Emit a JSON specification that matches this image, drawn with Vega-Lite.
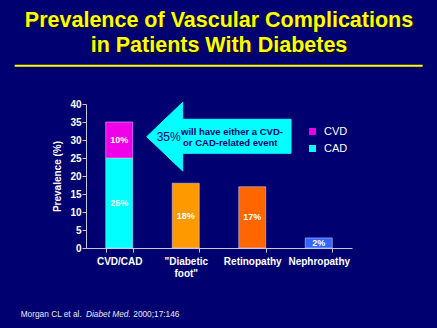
{
  "$schema": "https://vega.github.io/schema/vega-lite/v6.json",
  "width": 266,
  "height": 144,
  "autosize": {"type": "none"},
  "padding": {"left": 86, "top": 104, "right": 85, "bottom": 80},
  "background": "#000070",
  "config": {"view": {"stroke": null}, "font": "Liberation Sans"},
  "layer": [
    {
      "data": {
        "values": [
          {"category": "CVD/CAD", "series": "CAD", "value": 25, "label": "25%"},
          {"category": "CVD/CAD", "series": "CVD", "value": 10, "label": "10%"},
          {"category": "\"Diabetic|foot\"", "series": "Diabetic foot", "value": 18, "label": "18%"},
          {"category": "Retinopathy", "series": "Retinopathy", "value": 17, "label": "17%"},
          {"category": "Nephropathy", "series": "Nephropathy", "value": 2.8, "label": "2%"}
        ]
      },
      "encoding": {
        "x": {
          "field": "category",
          "type": "nominal",
          "sort": ["CVD/CAD", "\"Diabetic|foot\"", "Retinopathy", "Nephropathy"],
          "scale": {"paddingInner": 0.594, "paddingOuter": 0.297},
          "axis": {
            "title": null,
            "labelColor": "white",
            "labelFontWeight": "bold",
            "labelFontSize": 10,
            "labelAngle": 0,
            "labelPadding": 4,
            "labelExpr": "split(datum.label, '|')",
            "labelLineHeight": 12,
            "tickBand": "extent",
            "tickColor": "#C8C8D8",
            "tickSize": 4,
            "domainColor": "#C8C8D8",
            "grid": false
          }
        },
        "y": {
          "field": "value",
          "type": "quantitative",
          "stack": "zero",
          "scale": {"domain": [0, 40], "nice": false},
          "axis": {
            "title": "Prevalence (%)",
            "titleColor": "white",
            "titleFontSize": 10,
            "titleFontWeight": "bold",
            "titlePadding": 7,
            "values": [0, 5, 10, 15, 20, 25, 30, 35, 40],
            "labelColor": "white",
            "labelFontSize": 10,
            "labelFontWeight": "bold",
            "labelPadding": 1,
            "tickColor": "#C8C8D8",
            "tickSize": 4,
            "domainColor": "#C8C8D8",
            "grid": false
          }
        },
        "order": {"field": "series", "sort": "ascending"}
      },
      "layer": [
        {
          "mark": {"type": "bar", "stroke": "#D0D0FF", "strokeWidth": 0.8, "strokeOpacity": 0.7},
          "encoding": {
            "color": {
              "field": "series",
              "type": "nominal",
              "scale": {
                "domain": ["CVD", "CAD", "Diabetic foot", "Retinopathy", "Nephropathy"],
                "range": ["#F000E8", "#00FFFF", "#FF9900", "#FF6600", "#3366FF"]
              },
              "legend": {
                "values": ["CVD", "CAD"],
                "title": null,
                "orient": "none",
                "legendX": 221,
                "legendY": 22,
                "labelColor": "white",
                "labelFontSize": 11,
                "symbolType": "square",
                "symbolSize": 49,
                "symbolStrokeWidth": 0,
                "rowPadding": 5,
                "labelOffset": 6,
                "padding": 0
              }
            }
          }
        },
        {
          "mark": {"type": "text", "color": "white", "fontWeight": "bold", "fontSize": 9, "baseline": "middle"},
          "encoding": {
            "y": {"field": "value", "type": "quantitative", "stack": "zero", "bandPosition": 0.5, "scale": {"domain": [0, 40], "nice": false}},
            "text": {"field": "label"}
          }
        }
      ]
    },
    {
      "data": {
        "values": [
          {"i": 0, "px": 0.913, "py": 30.92},
          {"i": 1, "px": 1.454, "py": 40.47},
          {"i": 2, "px": 1.454, "py": 35.75},
          {"i": 3, "px": 3.083, "py": 35.75},
          {"i": 4, "px": 3.083, "py": 26.31},
          {"i": 5, "px": 1.454, "py": 26.31},
          {"i": 6, "px": 1.454, "py": 21.39}
        ]
      },
      "mark": {"type": "line", "interpolate": "linear-closed", "fill": "#00FFFF", "stroke": "#00FFFF", "strokeWidth": 1},
      "encoding": {
        "x": {"field": "px", "type": "quantitative", "scale": {"domain": [0, 4], "nice": false, "zero": false}, "axis": null},
        "y": {"field": "py", "type": "quantitative", "scale": {"domain": [0, 40], "nice": false}, "axis": null},
        "order": {"field": "i"}
      }
    },
    {
      "data": {"values": [{"note": "35%"}]},
      "mark": {"type": "text", "fontSize": 12, "color": "#000070", "align": "left", "baseline": "middle"},
      "encoding": {
        "text": {"field": "note"},
        "x": {"datum": 1.063, "type": "quantitative", "scale": {"domain": [0, 4], "nice": false, "zero": false}, "axis": null},
        "y": {"datum": 30.83, "type": "quantitative", "scale": {"domain": [0, 40], "nice": false}, "axis": null}
      }
    },
    {
      "data": {"values": [{"note": "will have either a CVD-"}]},
      "mark": {"type": "text", "fontSize": 9.5, "fontWeight": "bold", "color": "#000070", "align": "left", "baseline": "middle"},
      "encoding": {
        "text": {"field": "note"},
        "x": {"datum": 1.429, "type": "quantitative", "scale": {"domain": [0, 4], "nice": false, "zero": false}, "axis": null},
        "y": {"datum": 32.3, "type": "quantitative", "scale": {"domain": [0, 40], "nice": false}, "axis": null}
      }
    },
    {
      "data": {"values": [{"note": "or CAD-related event"}]},
      "mark": {"type": "text", "fontSize": 9.5, "fontWeight": "bold", "color": "#000070", "align": "left", "baseline": "middle"},
      "encoding": {
        "text": {"field": "note"},
        "x": {"datum": 1.459, "type": "quantitative", "scale": {"domain": [0, 4], "nice": false, "zero": false}, "axis": null},
        "y": {"datum": 29.1, "type": "quantitative", "scale": {"domain": [0, 40], "nice": false}, "axis": null}
      }
    },
    {
      "data": {"values": [{}]},
      "mark": {"type": "rule", "color": "#FFFF00", "strokeWidth": 2},
      "encoding": {
        "x": {"datum": -1.072, "type": "quantitative", "scale": {"domain": [0, 4], "nice": false, "zero": false}, "axis": null},
        "x2": {"datum": 5.063},
        "y": {"datum": 50.64, "type": "quantitative", "scale": {"domain": [0, 40], "nice": false}, "axis": null}
      }
    },
    {
      "data": {"values": [{"note": "Prevalence of Vascular Complications"}]},
      "mark": {"type": "text", "fontSize": 21.5, "fontWeight": "bold", "color": "#101018", "align": "center", "baseline": "alphabetic", "dx": 1.5, "dy": 1.5},
      "encoding": {
        "text": {"field": "note"},
        "x": {"datum": 2.0, "type": "quantitative", "scale": {"domain": [0, 4], "nice": false, "zero": false}, "axis": null},
        "y": {"datum": 61.39, "type": "quantitative", "scale": {"domain": [0, 40], "nice": false}, "axis": null}
      }
    },
    {
      "data": {"values": [{"note": "in Patients With Diabetes"}]},
      "mark": {"type": "text", "fontSize": 21.5, "fontWeight": "bold", "color": "#101018", "align": "center", "baseline": "alphabetic", "dx": 1.5, "dy": 1.5},
      "encoding": {
        "text": {"field": "note"},
        "x": {"datum": 2.0, "type": "quantitative", "scale": {"domain": [0, 4], "nice": false, "zero": false}, "axis": null},
        "y": {"datum": 54.31, "type": "quantitative", "scale": {"domain": [0, 40], "nice": false}, "axis": null}
      }
    },
    {
      "data": {"values": [{"note": "Prevalence of Vascular Complications"}]},
      "mark": {"type": "text", "fontSize": 21.5, "fontWeight": "bold", "color": "#FFFF00", "align": "center", "baseline": "alphabetic"},
      "encoding": {
        "text": {"field": "note"},
        "x": {"datum": 2.0, "type": "quantitative", "scale": {"domain": [0, 4], "nice": false, "zero": false}, "axis": null},
        "y": {"datum": 61.39, "type": "quantitative", "scale": {"domain": [0, 40], "nice": false}, "axis": null}
      }
    },
    {
      "data": {"values": [{"note": "in Patients With Diabetes"}]},
      "mark": {"type": "text", "fontSize": 21.5, "fontWeight": "bold", "color": "#FFFF00", "align": "center", "baseline": "alphabetic"},
      "encoding": {
        "text": {"field": "note"},
        "x": {"datum": 2.0, "type": "quantitative", "scale": {"domain": [0, 4], "nice": false, "zero": false}, "axis": null},
        "y": {"datum": 54.31, "type": "quantitative", "scale": {"domain": [0, 40], "nice": false}, "axis": null}
      }
    },
    {
      "data": {"values": [{"note": "Morgan CL et al."}]},
      "mark": {"type": "text", "fontSize": 8.3, "color": "#E8E8F4", "align": "left", "baseline": "middle"},
      "encoding": {
        "text": {"field": "note"},
        "x": {"datum": -0.982, "type": "quantitative", "scale": {"domain": [0, 4], "nice": false, "zero": false}, "axis": null},
        "y": {"datum": -18.5, "type": "quantitative", "scale": {"domain": [0, 40], "nice": false}, "axis": null}
      }
    },
    {
      "data": {"values": [{"note": "Diabet Med."}]},
      "mark": {"type": "text", "fontSize": 8.3, "fontStyle": "italic", "color": "#E8E8F4", "align": "left", "baseline": "middle"},
      "encoding": {
        "text": {"field": "note"},
        "x": {"datum": 0.0, "type": "quantitative", "scale": {"domain": [0, 4], "nice": false, "zero": false}, "axis": null},
        "y": {"datum": -18.5, "type": "quantitative", "scale": {"domain": [0, 40], "nice": false}, "axis": null}
      }
    },
    {
      "data": {"values": [{"note": "2000;17:146"}]},
      "mark": {"type": "text", "fontSize": 8.3, "color": "#E8E8F4", "align": "left", "baseline": "middle"},
      "encoding": {
        "text": {"field": "note"},
        "x": {"datum": 0.711, "type": "quantitative", "scale": {"domain": [0, 4], "nice": false, "zero": false}, "axis": null},
        "y": {"datum": -18.5, "type": "quantitative", "scale": {"domain": [0, 40], "nice": false}, "axis": null}
      }
    }
  ],
  "resolve": {"scale": {"x": "independent"}, "axis": {"x": "independent", "y": "independent"}}
}
